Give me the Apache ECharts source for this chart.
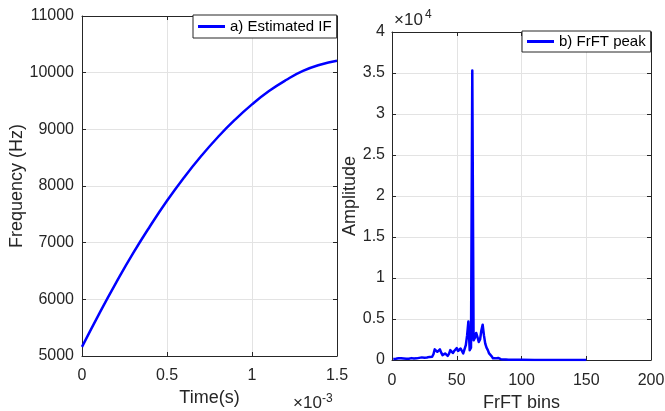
<!DOCTYPE html>
<html>
<head>
<meta charset="utf-8">
<script src="https://cdn.jsdelivr.net/npm/echarts@6/dist/echarts.min.js"></script>
<style>
html,body{margin:0;padding:0;background:#fff;}
#chart{width:665px;height:411px;}
</style>
</head>
<body>
<div id="chart"></div>
<script>
// ---- Panel a) Estimated instantaneous frequency (time in units of 1e-3 s) ----
var ifTime = [0, 0.1, 0.2, 0.3, 0.4, 0.5, 0.6, 0.7, 0.8, 0.9, 1.0, 1.1, 1.2, 1.3, 1.4, 1.5];
var ifFreq = [5160, 5740, 6290, 6810, 7290, 7740, 8150, 8525, 8865, 9170, 9440, 9675, 9870, 10030, 10140, 10210];

// ---- Panel b) FrFT peak ----
var frftBins = [1,2,3,4,5,6,7,8,9,10,11,12,13,14,15,16,17,18,19,20,21,22,23,24,25,26,27,28,29,30,
  31,32,33,34,35,36,37,38,39,40,41,42,43,44,45,46,47,48,49,50,51,52,53,54,55,56,57,58,59,60,
  61,62,63,64,65,66,67,68,69,70,71,72,73,74,75,76,77,78,79,80,81,82,83,84,85,86,88,90,95,100,
  110,120,130,140,150];
var frftAmp = [120,90,150,110,220,160,200,130,170,110,140,100,160,120,230,150,180,120,200,150,
  260,180,320,220,280,200,310,250,380,350,
  400,700,1300,1450,1000,1200,1300,900,600,400,800,1000,500,750,1200,1000,850,1100,1300,1450,
  1100,1000,1400,1250,800,650,1800,3000,4700,1200,
  1500,35300,2400,2700,3300,2800,2200,2500,3600,4300,3000,2000,1500,1200,800,650,450,200,80,200,
  300,250,150,100,80,60,50,40,30,20,
  15,10,10,10,10];

var xTicksA = {min: 0, max: 1.5, interval: 0.5};
var yTicksA = {min: 5000, max: 11000, interval: 1000};
var xTicksB = {min: 0, max: 200, interval: 50};
var yTicksB = {min: 0, max: 40000, interval: 5000};

var FONT = 'Liberation Sans, Arial, Helvetica, sans-serif';
var AX = '#262626';
var GRIDC = '#e3e3e3';
var BLUE = '#0000ff';

function mainAxis(gi, pos, t, opts) {
  var a = {
    type: 'value', gridIndex: gi, position: pos,
    min: t.min, max: t.max, interval: t.interval,
    axisLine: {show: true, onZero: false, lineStyle: {color: AX, width: 1}},
    axisTick: {show: true, inside: true, length: 4, lineStyle: {color: AX, width: 1}},
    axisLabel: {show: true, fontSize: 16, color: AX, fontFamily: FONT, margin: 8,
      formatter: function (v) { return String(v); }},
    splitLine: {show: true, lineStyle: {color: GRIDC, width: 1}}
  };
  for (var k in opts) a[k] = opts[k];
  return a;
}
function mirrorAxis(gi, pos, t) {
  return {
    type: 'value', gridIndex: gi, position: pos,
    min: t.min, max: t.max, interval: t.interval,
    axisLine: {show: true, onZero: false, lineStyle: {color: AX, width: 1}},
    axisTick: {show: true, inside: true, length: 4, lineStyle: {color: AX, width: 1}},
    axisLabel: {show: false},
    splitLine: {show: false}
  };
}

var ifData = ifTime.map(function (t, i) { return [t, ifFreq[i]]; });
var frftData = frftBins.map(function (b, i) { return [b, frftAmp[i]]; });

var chart = echarts.init(document.getElementById('chart'), null, {renderer: 'canvas'});
chart.setOption({
  animation: false,
  backgroundColor: '#fff',
  grid: [
    {left: 82, top: 16, width: 255, height: 340, containLabel: false, outerBoundsMode: 'none'},
    {left: 392, top: 32, width: 259, height: 328, containLabel: false, outerBoundsMode: 'none'}
  ],
  xAxis: [
    mainAxis(0, 'bottom', xTicksA, {
      name: 'Time(s)', nameLocation: 'middle', nameGap: 24,
      nameTextStyle: {fontSize: 18, color: AX, fontFamily: FONT},
      axisLabel: {show: true, fontSize: 16, color: AX, fontFamily: FONT, margin: 12,
        formatter: function (v) { return String(v); }}
    }),
    mirrorAxis(0, 'top', xTicksA),
    mainAxis(1, 'bottom', xTicksB, {
      name: 'FrFT bins', nameLocation: 'middle', nameGap: 31,
      nameTextStyle: {fontSize: 18, color: AX, fontFamily: FONT},
      axisLabel: {show: true, fontSize: 16, color: AX, fontFamily: FONT, margin: 13,
        formatter: function (v) { return String(v); }}
    }),
    mirrorAxis(1, 'top', xTicksB)
  ],
  yAxis: [
    mainAxis(0, 'left', yTicksA, {
      name: 'Frequency (Hz)', nameLocation: 'middle', nameGap: 39,
      nameTextStyle: {fontSize: 18, color: AX, fontFamily: FONT}
    }),
    mirrorAxis(0, 'right', yTicksA),
    mainAxis(1, 'left', yTicksB, {
      name: 'Amplitude', nameLocation: 'middle', nameGap: 33,
      nameTextStyle: {fontSize: 18, color: AX, fontFamily: FONT},
      axisLabel: {show: true, fontSize: 16, color: AX, fontFamily: FONT, margin: 7,
        formatter: function (v) { return String(v / 10000); }}
    }),
    mirrorAxis(1, 'right', yTicksB)
  ],
  legend: [
    {
      data: [{name: 'a) Estimated IF', icon: 'rect'}],
      left: 193, top: 15, padding: [4, 5, 4, 5],
      itemWidth: 27, itemHeight: 3, itemGap: 5,
      borderColor: AX, borderWidth: 1, borderRadius: 0, backgroundColor: '#fff',
      textStyle: {fontSize: 15, color: '#000', fontFamily: FONT},
      selectedMode: false
    },
    {
      data: [{name: 'b) FrFT peak', icon: 'rect'}],
      left: 522, top: 31, padding: [3, 5, 3, 5],
      itemWidth: 27, itemHeight: 3, itemGap: 5,
      borderColor: AX, borderWidth: 1, borderRadius: 0, backgroundColor: '#fff',
      textStyle: {fontSize: 15, color: '#000', fontFamily: FONT},
      selectedMode: false
    }
  ],
  series: [
    {
      name: 'a) Estimated IF', type: 'line', xAxisIndex: 0, yAxisIndex: 0,
      data: ifData, showSymbol: false, smooth: true,
      lineStyle: {color: BLUE, width: 2.5}, itemStyle: {color: BLUE}
    },
    {
      name: 'b) FrFT peak', type: 'line', xAxisIndex: 2, yAxisIndex: 2,
      data: frftData, showSymbol: false,
      lineStyle: {color: BLUE, width: 2.5, join: 'round'}, itemStyle: {color: BLUE}
    }
  ],
  graphic: [
    {type: 'text', x: 293, y: 412, style: {text: '×10', fontSize: 17, fill: AX, fontFamily: FONT, align: 'left', verticalAlign: 'bottom'}},
    {type: 'text', x: 322, y: 405, style: {text: '-3', fontSize: 12, fill: AX, fontFamily: FONT, align: 'left', verticalAlign: 'bottom'}},
    {type: 'text', x: 394, y: 29, style: {text: '×10', fontSize: 17, fill: AX, fontFamily: FONT, align: 'left', verticalAlign: 'bottom'}},
    {type: 'text', x: 425, y: 21, style: {text: '4', fontSize: 12, fill: AX, fontFamily: FONT, align: 'left', verticalAlign: 'bottom'}}
  ]
});
</script>
</body>
</html>
